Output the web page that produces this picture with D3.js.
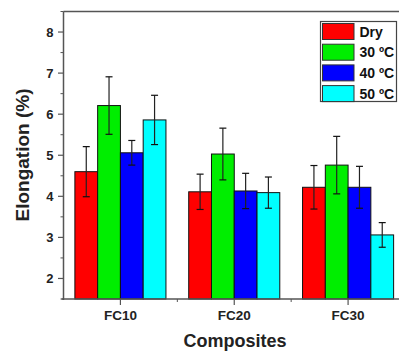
<!DOCTYPE html>
<html>
<head>
<meta charset="utf-8">
<script src="https://cdn.jsdelivr.net/npm/d3@7"></script>
<style>
  body { margin: 0; background: #fff; }
  svg { display: block; overflow: hidden; }
  text { font-family: Arial, "Liberation Sans", sans-serif; font-weight: bold; }
</style>
</head>
<body>
<svg id="chart"></svg>
<script>
// chart data
const categories = ["FC10", "FC20", "FC30"];
const seriesNames = ["Dry", "30 ºC", "40 ºC", "50 ºC"];
const seriesColors = ["#ff0000", "#00ee00", "#0000ff", "#00ffff"];
const dryValues = [4.60, 4.11, 4.22];
const dryErrors = [0.61, 0.43, 0.53];
const c30Values = [6.21, 5.03, 4.76];
const c30Errors = [0.70, 0.63, 0.70];
const c40Values = [5.06, 4.13, 4.22];
const c40Errors = [0.30, 0.43, 0.51];
const c50Values = [5.86, 4.09, 3.06];
const c50Errors = [0.60, 0.38, 0.30];
const yTicks = [2, 3, 4, 5, 6, 7, 8];

const allValues = [dryValues, c30Values, c40Values, c50Values];
const allErrors = [dryErrors, c30Errors, c40Errors, c50Errors];

const width = 399, height = 351;
const margin = { left: 63.5, top: 11.5, bottom: 299 };
const plotRight = 405; // frame runs past the picture edge

const svg = d3.select("#chart").attr("width", width).attr("height", height);

const y = d3.scaleLinear().domain([1.5, 8.5]).range([margin.bottom, margin.top]);
const x0 = d3.scaleBand().domain(categories).range([margin.left, plotRight]).padding(0);
const step = x0.bandwidth();
const x1 = d3.scaleBand().domain(seriesNames).range([step * 0.1, step * 0.9]).padding(0);

// rows of bars
const rows = [];
categories.forEach((c, ci) => {
    seriesNames.forEach((s, si) => {
        rows.push({ cat: c, series: s, color: seriesColors[si],
                    value: allValues[si][ci], err: allErrors[si][ci] });
    });
});

const g = svg.append("g");

g.selectAll(".bar")
    .data(rows)
    .join("rect")
        .attr("class", "bar")
        .attr("x", d => x0(d.cat) + x1(d.series))
        .attr("y", d => y(d.value))
        .attr("width", x1.bandwidth())
        .attr("height", d => y(1.5) - y(d.value))
        .attr("fill", d => d.color)
        .attr("stroke", "#111")
        .attr("stroke-width", 1);

// error bars
const eb = g.selectAll(".err")
    .data(rows)
    .join("g")
        .attr("class", "err")
        .attr("transform", d => `translate(${x0(d.cat) + x1(d.series) + x1.bandwidth() / 2},0)`);

eb.append("line")
    .attr("y1", d => y(d.value + d.err))
    .attr("y2", d => y(d.value - d.err))
    .attr("stroke", "#222")
    .attr("stroke-width", 1.2);

[1, -1].forEach(sign => {
    eb.append("line")
        .attr("x1", -3.5).attr("x2", 3.5)
        .attr("y1", d => y(d.value + sign * d.err))
        .attr("y2", d => y(d.value + sign * d.err))
        .attr("stroke", "#111")
        .attr("stroke-width", 1.2);
});

// frame
const frameColor = "#555";
svg.append("line")
    .attr("x1", margin.left).attr("x2", plotRight)
    .attr("y1", margin.top).attr("y2", margin.top)
    .attr("stroke", frameColor).attr("stroke-width", 1.5);

// y axis
const yAxis = svg.append("g").attr("transform", `translate(${margin.left},0)`);
yAxis.append("line")
    .attr("y1", margin.top).attr("y2", margin.bottom + 1)
    .attr("stroke", frameColor).attr("stroke-width", 1.5);
const yMinor = d3.range(1.5, 8.51, 1);
yAxis.selectAll(".ymin").data(yMinor).join("line")
    .attr("x1", -3).attr("x2", 0)
    .attr("y1", d => y(d)).attr("y2", d => y(d))
    .attr("stroke", frameColor).attr("stroke-width", 1);
yAxis.selectAll(".ymaj").data(yTicks).join("line")
    .attr("x1", -5.5).attr("x2", 0)
    .attr("y1", d => y(d)).attr("y2", d => y(d))
    .attr("stroke", frameColor).attr("stroke-width", 1.2);
yAxis.selectAll(".ylab").data(yTicks).join("text")
    .attr("x", -10)
    .attr("y", d => y(d))
    .attr("dy", "0.36em")
    .attr("text-anchor", "end")
    .attr("font-size", 13)
    .attr("fill", "#222")
    .text(d => d);

// x axis
const xAxis = svg.append("g").attr("transform", `translate(0,${margin.bottom})`);
xAxis.append("line")
    .attr("x1", margin.left - 2).attr("x2", plotRight)
    .attr("stroke", frameColor).attr("stroke-width", 1.5);
xAxis.selectAll(".xmaj").data(categories).join("line")
    .attr("x1", d => x0(d) + step / 2).attr("x2", d => x0(d) + step / 2)
    .attr("y1", 0).attr("y2", 6)
    .attr("stroke", frameColor).attr("stroke-width", 1.2);
xAxis.selectAll(".xmin").data(categories.slice(1)).join("line")
    .attr("x1", d => x0(d)).attr("x2", d => x0(d))
    .attr("y1", 0).attr("y2", 3)
    .attr("stroke", frameColor).attr("stroke-width", 1);
xAxis.selectAll(".xlab").data(categories).join("text")
    .attr("x", d => x0(d) + step / 2)
    .attr("y", 20.5)
    .attr("text-anchor", "middle")
    .attr("font-size", 13.5)
    .attr("fill", "#222")
    .text(d => d);

// axis titles
svg.append("text")
    .attr("x", 235).attr("y", 346.5)
    .attr("text-anchor", "middle")
    .attr("font-size", 18)
    .attr("fill", "#222")
    .text("Composites");
svg.append("text")
    .attr("transform", "translate(29,155) rotate(-90)")
    .attr("text-anchor", "middle")
    .attr("font-size", 19)
    .attr("fill", "#222")
    .text("Elongation (%)");

// legend
const legend = svg.append("g").attr("transform", "translate(320.5,21.5)");
legend.append("rect")
    .attr("width", 76).attr("height", 80)
    .attr("fill", "#fff")
    .attr("stroke", "#444").attr("stroke-width", 1.2);
const li = legend.selectAll(".li").data(seriesNames).join("g")
    .attr("transform", (d, i) => `translate(2,${2 + i * 20.7})`);
li.append("rect")
    .attr("width", 31.5).attr("height", 16)
    .attr("fill", (d, i) => seriesColors[i])
    .attr("stroke", "#333").attr("stroke-width", 1);
li.append("text")
    .attr("x", 37).attr("y", 8)
    .attr("dy", "0.36em")
    .attr("font-size", 14)
    .attr("fill", "#111")
    .text(d => d);
</script>
</body>
</html>
